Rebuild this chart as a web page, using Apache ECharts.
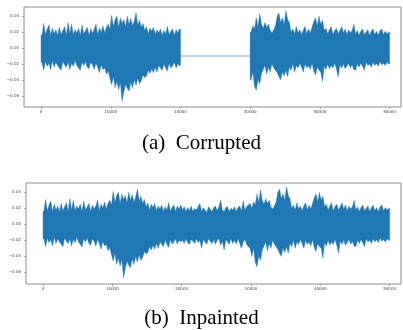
<!DOCTYPE html>
<html>
<head>
<meta charset="utf-8">
<script src="https://cdn.jsdelivr.net/npm/echarts@6/dist/echarts.min.js"></script>
<style>
  html, body { margin: 0; padding: 0; background: #fff; }
  #chart { width: 403px; height: 330px; }
</style>
</head>
<body>
<div id="chart"></div>
<script>
// one bin = 250 samples; each bin keeps the min / max of the waveform
const BIN = 250;
const xTicks = [0, 10000, 20000, 30000, 40000, 50000];
const yTicks = [-0.06, -0.04, -0.02, 0.00, 0.02, 0.04];
const captions = ['(a)  Corrupted', '(b)  Inpainted'];

// samples 0 - 20000 (bins 0-79), same in both signals
const headHi = [
  0.016, 0.031, 0.017, 0.024, 0.029, 0.016, 0.025, 0.018, 0.023, 0.016,
  0.026, 0.017, 0.022, 0.027, 0.016, 0.032, 0.018, 0.030, 0.017, 0.023,
  0.019, 0.025, 0.016, 0.029, 0.018, 0.022, 0.026, 0.016, 0.024, 0.019,
  0.023, 0.030, 0.017, 0.025, 0.020, 0.028, 0.019, 0.026, 0.030, 0.024,
  0.041, 0.027, 0.036, 0.040, 0.026, 0.038, 0.031, 0.036, 0.027, 0.040,
  0.030, 0.037, 0.028, 0.034, 0.044, 0.029, 0.035, 0.026, 0.031, 0.022,
  0.027, 0.018, 0.025, 0.021, 0.026, 0.017, 0.023, 0.019, 0.024, 0.016,
  0.022, 0.018, 0.027, 0.017, 0.021, 0.024, 0.016, 0.023, 0.019, 0.024
];
const headLo = [
  -0.018, -0.028, -0.017, -0.023, -0.019, -0.027, -0.016, -0.024, -0.018, -0.022,
  -0.025, -0.028, -0.017, -0.021, -0.024, -0.018, -0.027, -0.019, -0.023, -0.016,
  -0.022, -0.025, -0.028, -0.018, -0.022, -0.017, -0.024, -0.026, -0.018, -0.021,
  -0.027, -0.019, -0.024, -0.031, -0.021, -0.027, -0.025, -0.033, -0.029, -0.038,
  -0.046, -0.036, -0.050, -0.042, -0.052, -0.044, -0.067, -0.055, -0.046, -0.051,
  -0.054, -0.043, -0.050, -0.040, -0.047, -0.038, -0.045, -0.041, -0.034, -0.037,
  -0.035, -0.028, -0.032, -0.026, -0.031, -0.024, -0.030, -0.022, -0.025, -0.028,
  -0.020, -0.025, -0.029, -0.019, -0.025, -0.022, -0.018, -0.025, -0.020, -0.022
];

// samples 20000 - 30000 (bins 80-119): only in the inpainted signal
const fillHi = [
  0.018, 0.022, 0.016, 0.021, 0.017, 0.023, 0.016, 0.020, 0.018, 0.022,
  0.026, 0.016, 0.021, 0.018, 0.015, 0.022, 0.019, 0.016, 0.021, 0.023,
  0.017, 0.022, 0.030, 0.018, 0.016, 0.021, 0.022, 0.016, 0.020, 0.018,
  0.022, 0.016, 0.021, 0.023, 0.017, 0.029, 0.018, 0.022, 0.024, 0.026
];
const fillLo = [
  -0.020, -0.024, -0.018, -0.023, -0.025, -0.019, -0.021, -0.024, -0.018, -0.023,
  -0.020, -0.030, -0.019, -0.022, -0.025, -0.018, -0.021, -0.024, -0.019, -0.025,
  -0.020, -0.018, -0.026, -0.021, -0.032, -0.019, -0.022, -0.025, -0.018, -0.024,
  -0.020, -0.025, -0.018, -0.024, -0.030, -0.022, -0.019, -0.025, -0.028, -0.030
];
// the corrupted signal is flat in the missing part
const gapLevel = -0.01;
const gapRange = [20000, 30000];

// samples 30000 - 50000 (bins 120-199), same in both signals
const tailHi = [
  0.020, 0.028, 0.024, 0.038, 0.027, 0.043, 0.030, 0.025, 0.032, 0.026,
  0.030, 0.022, 0.019, 0.023, 0.028, 0.040, 0.044, 0.032, 0.038, 0.030,
  0.047, 0.036, 0.032, 0.020, 0.024, 0.018, 0.027, 0.019, 0.023, 0.017,
  0.023, 0.027, 0.018, 0.024, 0.019, 0.026, 0.033, 0.038, 0.028, 0.040,
  0.030, 0.035, 0.022, 0.025, 0.018, 0.023, 0.027, 0.017, 0.022, 0.025,
  0.018, 0.022, 0.027, 0.019, 0.024, 0.017, 0.023, 0.019, 0.022, 0.030,
  0.018, 0.022, 0.016, 0.021, 0.024, 0.017, 0.020, 0.023, 0.016, 0.021,
  0.024, 0.017, 0.021, 0.016, 0.022, 0.024, 0.017, 0.021, 0.018, 0.020
];
const tailLo = [
  -0.040, -0.030, -0.048, -0.053, -0.040, -0.045, -0.032, -0.027, -0.022, -0.033,
  -0.024, -0.030, -0.020, -0.025, -0.028, -0.031, -0.036, -0.040, -0.030, -0.035,
  -0.028, -0.036, -0.024, -0.028, -0.020, -0.030, -0.022, -0.025, -0.019, -0.024,
  -0.030, -0.020, -0.025, -0.022, -0.027, -0.019, -0.029, -0.034, -0.024, -0.028,
  -0.030, -0.042, -0.023, -0.027, -0.020, -0.026, -0.022, -0.025, -0.019, -0.026,
  -0.036, -0.021, -0.025, -0.020, -0.026, -0.023, -0.019, -0.025, -0.021, -0.027,
  -0.028, -0.020, -0.024, -0.019, -0.023, -0.028, -0.018, -0.022, -0.020, -0.024,
  -0.018, -0.022, -0.019, -0.023, -0.017, -0.021, -0.019, -0.022, -0.018, -0.020
];

const fmtY = v => (v < 0 ? '\u2212' : '') + Math.abs(v).toFixed(2);
const tickFont = {fontFamily: 'DejaVu Sans', fontSize: 4, color: '#444'};

function xAxis(gridIndex) {
  return {
    type: 'value', gridIndex, min: -2450, max: 51640,
    splitLine: {show: false},
    axisLine: {show: false, onZero: false},
    axisTick: {show: true, customValues: xTicks, length: 2, lineStyle: {color: '#777', width: 0.6}},
    axisLabel: Object.assign({customValues: xTicks, margin: 3, formatter: v => String(v)}, tickFont),
  };
}
function yAxis(gridIndex, min, max) {
  return {
    type: 'value', gridIndex, min, max,
    splitLine: {show: false},
    axisLine: {show: false, onZero: false},
    axisTick: {show: true, customValues: yTicks, length: 2, lineStyle: {color: '#777', width: 0.6}},
    axisLabel: Object.assign({customValues: yTicks, margin: 5, formatter: fmtY}, tickFont),
  };
}

// a stretch of waveform: one filled outline running along the bin maxima
// and back along the bin minima (drawn once, on the first data item)
function wave(idx, parts) {
  const rows = [];
  parts.forEach(([hi, lo, first]) => hi.forEach((h, i) => rows.push([(first + i) * BIN, h, lo[i]])));
  return {
    type: 'custom', xAxisIndex: idx, yAxisIndex: idx, data: rows,
    encode: {x: 0, y: [1, 2]},
    renderItem(params, api) {
      if (params.dataIndex !== 0) return null;
      const children = parts.map(([hi, lo, first]) => {
        const up = [], down = [];
        up.push(api.coord([first * BIN, hi[0]]));
        down.push(api.coord([first * BIN, lo[0]]));
        hi.forEach((h, i) => {
          const x = (first + i) * BIN + BIN / 2;
          up.push(api.coord([x, h]));
          down.push(api.coord([x, lo[i]]));
        });
        const end = (first + hi.length) * BIN;
        up.push(api.coord([end, hi[hi.length - 1]]));
        down.push(api.coord([end, lo[lo.length - 1]]));
        return {
          type: 'polygon',
          shape: {points: up.concat(down.reverse())},
          style: {fill: '#1f77b4', stroke: '#1f77b4', lineWidth: 0.4},
        };
      });
      return {type: 'group', children};
    },
  };
}

const chart = echarts.init(document.getElementById('chart'), null, {renderer: 'canvas'});
chart.setOption({
  animation: false,
  backgroundColor: '#fff',
  grid: [
    {left: 24, top: 7, right: 2, height: 100, show: true, borderColor: '#8c8c8c', borderWidth: 1},
    {left: 26, top: 183, right: 2, height: 101, show: true, borderColor: '#8c8c8c', borderWidth: 1},
  ],
  xAxis: [xAxis(0), xAxis(1)],
  yAxis: [yAxis(0, -0.0741, 0.0516), yAxis(1, -0.0745, 0.0516)],
  series: [
    {
      type: 'line', xAxisIndex: 0, yAxisIndex: 0, symbol: 'none', z: 1,
      data: [[gapRange[0], gapLevel], [gapRange[1], gapLevel]],
      lineStyle: {color: '#1f77b4', width: 1.2, opacity: 0.6},
    },
    wave(0, [[headHi, headLo, 0], [tailHi, tailLo, 120]]),
    wave(1, [[headHi.concat(fillHi, tailHi), headLo.concat(fillLo, tailLo), 0]]),
  ],
  graphic: [
    {type: 'text', left: 'center', top: 133, style: {text: captions[0], font: '21px "Liberation Serif"', fill: '#000'}},
    {type: 'text', left: 'center', top: 308, style: {text: captions[1], font: '21px "Liberation Serif"', fill: '#000'}},
  ],
});
</script>
</body>
</html>
